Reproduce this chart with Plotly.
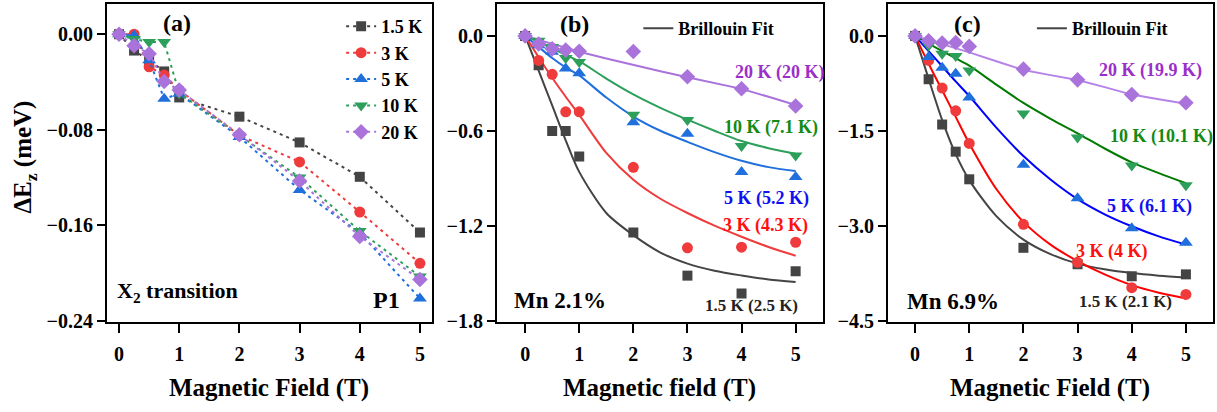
import plotly.graph_objects as go

# ---------------- data ----------------
B = [0, 0.25, 0.5, 0.75, 1, 2, 3, 4, 5]
temps = ["1.5 K", "3 K", "5 K", "10 K", "20 K"]

# panel (a): X2 transition, P1
a_15K = [0, -0.0137, -0.0219, -0.0312, -0.0530, -0.0691, -0.0907, -0.1195, -0.1662]
a_3K = [0, 0.0, -0.0273, -0.0342, -0.0468, -0.0847, -0.1070, -0.1490, -0.1920]
a_5K = [0, -0.001, -0.0219, -0.0540, -0.0500, -0.0861, -0.1305, -0.1665, -0.2214]
a_10K = [0, -0.004, -0.0066, -0.0066, -0.0495, -0.0850, -0.1200, -0.1650, -0.2030]
a_20K = [0, -0.0096, -0.0164, -0.0396, -0.0468, -0.0842, -0.1230, -0.1695, -0.2056]

# panel (b): Mn 2.1%
b_15K = [0, -0.186, -0.602, -0.602, -0.763, -1.243, -1.516, -1.629, -1.488]
b_3K = [0, -0.155, -0.243, -0.480, -0.480, -0.831, -1.340, -1.336, -1.305]
b_5K = [0, -0.06, -0.10, -0.206, -0.237, -0.546, -0.619, -0.860, -0.893]
b_10K = [0, -0.03, -0.07, -0.140, -0.165, -0.499, -0.532, -0.697, -0.757]
b_20K = [0, -0.051, -0.082, -0.090, -0.097, -0.099, -0.258, -0.334, -0.443]

# panel (c): Mn 6.9%
c_15K = [0, -0.685, -1.401, -1.830, -2.267, -3.350, -3.610, -3.800, -3.770]
c_3K = [0, -0.387, -0.824, -1.185, -1.700, -2.979, -3.580, -3.980, -4.087]
c_5K = [0, -0.334, -0.504, -0.600, -0.975, -2.035, -2.567, -3.040, -3.272]
c_10K = [0, -0.15, -0.283, -0.319, -0.545, -1.226, -1.608, -2.050, -2.360]
c_20K = [0, -0.077, -0.113, -0.103, -0.166, -0.525, -0.695, -0.928, -1.056]

# Brillouin fit curves
fit_B = [0, 0.25, 0.5, 0.75, 1, 1.5, 2, 2.5, 3, 3.5, 4, 4.5, 5]
bfit_15K = [0, -0.22, -0.44, -0.66, -0.86, -1.12, -1.26, -1.37, -1.44, -1.485, -1.515, -1.54, -1.556]
bfit_3K = [0, -0.135, -0.265, -0.385, -0.50, -0.74, -0.91, -1.03, -1.12, -1.20, -1.27, -1.335, -1.39]
bfit_5K = [0, -0.07, -0.14, -0.20, -0.25, -0.39, -0.51, -0.60, -0.67, -0.735, -0.79, -0.83, -0.855]
bfit_10K = [0, -0.04, -0.08, -0.12, -0.16, -0.27, -0.37, -0.455, -0.53, -0.60, -0.665, -0.71, -0.745]
bfit_20K = [0, -0.025, -0.05, -0.075, -0.10, -0.143, -0.185, -0.224, -0.262, -0.298, -0.335, -0.385, -0.437]

cfit_15K = [0, -0.68, -1.33, -1.87, -2.28, -2.85, -3.22, -3.45, -3.60, -3.69, -3.75, -3.79, -3.82]
cfit_3K = [0, -0.44, -0.86, -1.28, -1.70, -2.42, -2.94, -3.30, -3.56, -3.77, -3.94, -4.06, -4.15]
cfit_5K = [0, -0.24, -0.48, -0.72, -0.95, -1.45, -1.90, -2.27, -2.58, -2.82, -3.01, -3.17, -3.30]
cfit_10K = [0, -0.12, -0.24, -0.355, -0.47, -0.77, -1.06, -1.31, -1.54, -1.78, -2.00, -2.17, -2.33]
cfit_20K = [0, -0.065, -0.13, -0.19, -0.26, -0.40, -0.54, -0.62, -0.696, -0.81, -0.928, -1.00, -1.072]

b_labels = ["1.5 K (2.5 K)", "3 K (4.3 K)", "5 K (5.2 K)", "10 K (7.1 K)", "20 K (20 K)"]
c_labels = ["1.5 K (2.1 K)", "3 K (4 K)", "5 K (6.1 K)", "10 K (10.1 K)", "20 K (19.9 K)"]

a_ticks = [0, -0.08, -0.16, -0.24]
b_ticks = [0, -0.6, -1.2, -1.8]
c_ticks = [0, -1.5, -3.0, -4.5]
x_ticks = [0, 1, 2, 3, 4, 5]

# ---------------- styles ----------------
mk_col = ["#444444", "#ef3b3b", "#1f6fdc", "#2ca05a", "#aa73dc"]
symbols = ["square", "circle", "triangle-up", "triangle-down", "diamond"]
msizes = [10, 11, 12, 12, 12]
b_line_col = ["#444444", "#ef3b3b", "#1f6fdc", "#2ca05a", "#aa73dc"]
c_line_col = ["#444444", "#ff0000", "#0000ff", "#007a00", "#b583e8"]
txt_col = ["#222222", "#ff1010", "#1010f0", "#138a13", "#9b2fc9"]

FONT = "Liberation Serif"

fig = go.Figure()

a_data = [a_15K, a_3K, a_5K, a_10K, a_20K]
for i in range(5):
    fig.add_trace(go.Scatter(
        x=B, y=a_data[i], mode="lines+markers", name=temps[i],
        line=dict(color=mk_col[i], width=2, dash="3px,4px"),
        marker=dict(symbol=symbols[i], size=msizes[i], color=mk_col[i]),
        xaxis="x", yaxis="y", legend="legend"))

b_data = [b_15K, b_3K, b_5K, b_10K, b_20K]
b_fits = [bfit_15K, bfit_3K, bfit_5K, bfit_10K, bfit_20K]
c_data = [c_15K, c_3K, c_5K, c_10K, c_20K]
c_fits = [cfit_15K, cfit_3K, cfit_5K, cfit_10K, cfit_20K]

for panel, data, fits, lcols, xa, ya, leg in [
        ("b", b_data, b_fits, b_line_col, "x2", "y2", "legend2"),
        ("c", c_data, c_fits, c_line_col, "x3", "y3", "legend3")]:
    for i in range(5):
        fig.add_trace(go.Scatter(
            x=fit_B, y=fits[i], mode="lines",
            name="Brillouin Fit", showlegend=(i == 0),
            line=dict(color=lcols[i], width=2,
                      shape="linear" if i == 4 else "spline", smoothing=0.8),
            xaxis=xa, yaxis=ya, legend=leg))
    for i in range(5):
        fig.add_trace(go.Scatter(
            x=B, y=data[i], mode="markers", showlegend=False,
            marker=dict(symbol=symbols[i], size=msizes[i], color=mk_col[i]),
            xaxis=xa, yaxis=ya))

ydom = [0.2007, 0.9903]
axis_common = dict(showline=True, linewidth=2, linecolor="black", mirror=True,
                   ticks="outside", tickwidth=2, tickcolor="black",
                   showgrid=False, zeroline=False,
                   tickfont=dict(size=20, family=FONT, color="black", weight="bold"))
x_common = dict(ticklen=9, ticklabelstandoff=4, tickvals=x_ticks, **axis_common)
y_common = dict(ticklen=8, domain=ydom, **axis_common)

fig.update_layout(
    width=1217, height=412,
    margin=dict(l=0, r=0, t=0, b=0),
    paper_bgcolor="white", plot_bgcolor="white",
    font=dict(family=FONT, color="black", weight="bold"),
    xaxis=dict(domain=[0.08792, 0.35497], range=[-0.2, 5.2], anchor="y", **x_common),
    yaxis=dict(range=[-0.2413, 0.0254], tickvals=a_ticks, tickformat=".2f",
               anchor="x", **y_common),
    xaxis2=dict(domain=[0.40838, 0.67600], range=[-0.52, 5.5], anchor="y2", **x_common),
    yaxis2=dict(range=[-1.810, 0.2022], tickvals=b_ticks, tickformat=".1f",
                anchor="x2", **y_common),
    xaxis3=dict(domain=[0.72966, 0.99671], range=[-0.5, 5.5], anchor="y3", **x_common),
    yaxis3=dict(range=[-4.525, 0.506], tickvals=c_ticks, tickformat=".1f",
                anchor="x3", **y_common),
    legend=dict(x=0.2803, y=0.980, xanchor="left", yanchor="top",
                font=dict(size=18, family=FONT, weight="bold"),
                bgcolor="rgba(0,0,0,0)", tracegroupgap=0),
    legend2=dict(x=0.5245, y=0.975, xanchor="left", yanchor="top",
                 font=dict(size=18, family=FONT, weight="bold"),
                 bgcolor="rgba(0,0,0,0)"),
    legend3=dict(x=0.8479, y=0.975, xanchor="left", yanchor="top",
                 font=dict(size=18, family=FONT, weight="bold"),
                 bgcolor="rgba(0,0,0,0)"),
    showlegend=True,
)

ann = []
def A(text, x, y, xref, yref, size, color="black", xanchor="left", yanchor="middle", angle=0):
    ann.append(dict(text=text, x=x, y=y, xref=xref, yref=yref, showarrow=False,
                    xanchor=xanchor, yanchor=yanchor, textangle=angle,
                    font=dict(size=size, color=color, family=FONT, weight="bold")))

# panel labels
A("(a)", 0.96, 0.009, "x", "y", 24, xanchor="center")
A("(b)", 0.92, 0.072, "x2", "y2", 24, xanchor="center")
A("(c)", 0.96, 0.181, "x3", "y3", 24, xanchor="center")
A("X<sub>2</sub> transition", -0.06, -0.2157, "x", "y", 22)
A("P1", 4.18, -0.223, "x", "y", 24)
A("Mn 2.1%", -0.24, -1.672, "x2", "y2", 23)
A("Mn 6.9%", -0.18, -4.195, "x3", "y3", 23)

b_pos = [(3.29, -1.704), (3.62, -1.202), (3.64, -1.029), (3.64, -0.577), (3.84, -0.234)]
c_pos = [(2.99, -4.195), (2.93, -3.402), (3.51, -2.691), (3.56, -1.597), (3.36, -0.541)]
for i in range(5):
    sz = 17 if i == 0 else 18
    A(b_labels[i], b_pos[i][0], b_pos[i][1], "x2", "y2", sz, txt_col[i])
    A(c_labels[i], c_pos[i][0], c_pos[i][1], "x3", "y3", sz, txt_col[i])

# axis titles
A("Magnetic Field (T)", 0.5, 0.037, "x domain", "paper", 25, xanchor="center")
A("Magnetic field (T)", 0.5, 0.037, "x2 domain", "paper", 25, xanchor="center")
A("Magnetic Field (T)", 0.5, 0.037, "x3 domain", "paper", 25, xanchor="center")
A("ΔE<sub>z</sub> (meV)", 25 / 1217, 0.609, "paper", "paper", 25, xanchor="center", angle=-90)

fig.update_layout(annotations=ann)
fig.write_html("out.html")
